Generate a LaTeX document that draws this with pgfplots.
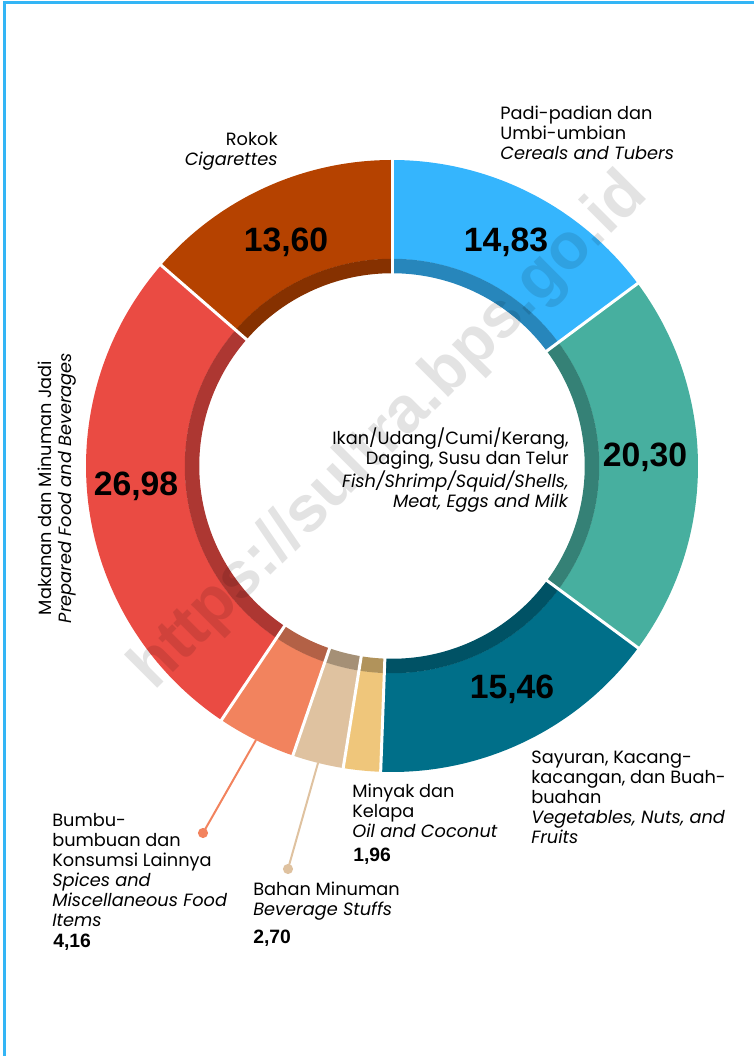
\documentclass[border=0pt]{standalone}
\usepackage{pgfplots}
\pgfplotsset{compat=1.18}
\usepackage{fontspec}
\setmainfont{Poppins}
\newfontfamily\numfont{Liberation Sans}
\definecolor{framecol}{HTML}{33B5F5}
\definecolor{cereal}{HTML}{35B5FD}
\definecolor{fish}{HTML}{47AF9F}
\definecolor{veg}{HTML}{006F89}
\definecolor{oil}{HTML}{EFC67B}
\definecolor{bev}{HTML}{DFC2A0}
\definecolor{spice}{HTML}{F2835E}
\definecolor{prep}{HTML}{EA4B43}
\definecolor{cig}{HTML}{B54200}
% ring geometry in pixel units (1 unit = 0.2 mm), centre (392,590)
\def\cum{0}
\def\seps{}
\newcommand\seg[2]{% value, colour
  \pgfmathsetmacro\aS{90-3.6*\cum}%
  \pgfmathsetmacro\newcum{\cum+#1}%
  \xdef\cum{\newcum}%
  \pgfmathsetmacro\aE{90-3.6*\cum}%
  \edef\doplot{\noexpand\addplot[draw=#2, line width=19.8mm, line cap=butt, domain=\aE:\aS, samples=90] ({392+256.5*cos(x)},{590+256.5*sin(x)});
  \noexpand\addplot[draw=#2!74!black, line width=2.9mm, line cap=butt, domain=\aE:\aS, samples=90] ({392+200*cos(x)},{590+200*sin(x)});}%
  \doplot
  \xdef\seps{\unexpanded\expandafter{\seps}\noexpand\addplot[white, line width=0.6mm, domain=188:312, samples=2] ({392+x*cos(\aS)},{590+x*sin(\aS)});}%
}
\begin{document}
\begin{tikzpicture}
\begin{axis}[name=ax, x=0.2mm, y=0.2mm, xmin=0, xmax=754, ymin=0, ymax=1056,
  enlargelimits=false, hide axis, clip=false]
\draw[framecol, line width=0.45mm] (axis cs:4.5,0) -- (axis cs:4.5,1053.5) -- (axis cs:754,1053.5);
% values (percent)
\seg{14.83}{cereal}
\seg{20.30}{fish}
\seg{15.46}{veg}
\seg{1.96}{oil}
\seg{2.70}{bev}
\seg{4.16}{spice}
\seg{26.98}{prep}
\seg{13.60}{cig}
\seps
% leader lines
\addplot[spice, line width=0.4mm, mark=*, mark size=0.8mm, mark indices={2}] coordinates {(256,316) (203,223)};
\addplot[bev, line width=0.4mm, mark=*, mark size=0.8mm, mark indices={2}] coordinates {(318,293) (288,187)};
% watermark
\node[rotate=45, text=black, opacity=0.11, font=\numfont\bfseries\fontsize{37}{40}\selectfont] at (axis cs:390,624) {https://sultra.bps.go.id};
% value labels
\begin{scope}[every node/.style={font=\numfont\bfseries\fontsize{19.2}{21}\selectfont, inner sep=0pt}]
\node at (axis cs:506,814) {14,83};
\node at (axis cs:286,814) {13,60};
\node at (axis cs:645,599) {20,30};
\node at (axis cs:136,570) {26,98};
\node at (axis cs:512,367) {15,46};
\end{scope}
\begin{scope}[every node/.style={font=\fontsize{10.1}{11.4}\selectfont, inner sep=0pt}]
\node[anchor=east, align=right] at (axis cs:278,905) {Rokok\\\textit{Cigarettes}};
\node[anchor=west, align=left] at (axis cs:500,923) {Padi-padian dan\\Umbi-umbian\\\textit{Cereals and Tubers}};
\node[anchor=east, align=right] at (axis cs:569,586) {Ikan/Udang/Cumi/Kerang,\\Daging, Susu dan Telur\\\textit{Fish/Shrimp/Squid/Shells,}\\\textit{Meat, Eggs and Milk}};
\node[anchor=west, align=left] at (axis cs:531,259) {Sayuran, Kacang-\\kacangan, dan Buah-\\buahan\\\textit{Vegetables, Nuts, and}\\\textit{Fruits}};
\node[anchor=west, align=left] at (axis cs:352,245) {Minyak dan\\Kelapa\\\textit{Oil and Coconut}};
\node[anchor=west, align=left] at (axis cs:253,155) {Bahan Minuman\\\textit{Beverage Stuffs}};
\node[anchor=west, align=left] at (axis cs:52,186) {Bumbu-\\bumbuan dan\\Konsumsi Lainnya\\\textit{Spices and}\\\textit{Miscellaneous Food}\\\textit{Items}};
\node[rotate=90, align=center] at (axis cs:57,568) {Makanan dan Minuman Jadi\\\textit{Prepared Food and Beverages}};
\end{scope}
\begin{scope}[every node/.style={font=\numfont\bfseries\fontsize{11}{12}\selectfont, inner sep=0pt, anchor=west}]
\node at (axis cs:353,200) {1,96};
\node at (axis cs:253,118) {2,70};
\node at (axis cs:53,114) {4,16};
\end{scope}
\end{axis}
\pgfresetboundingbox
\path (ax.south west) rectangle (ax.north east);
\end{tikzpicture}
\end{document}
